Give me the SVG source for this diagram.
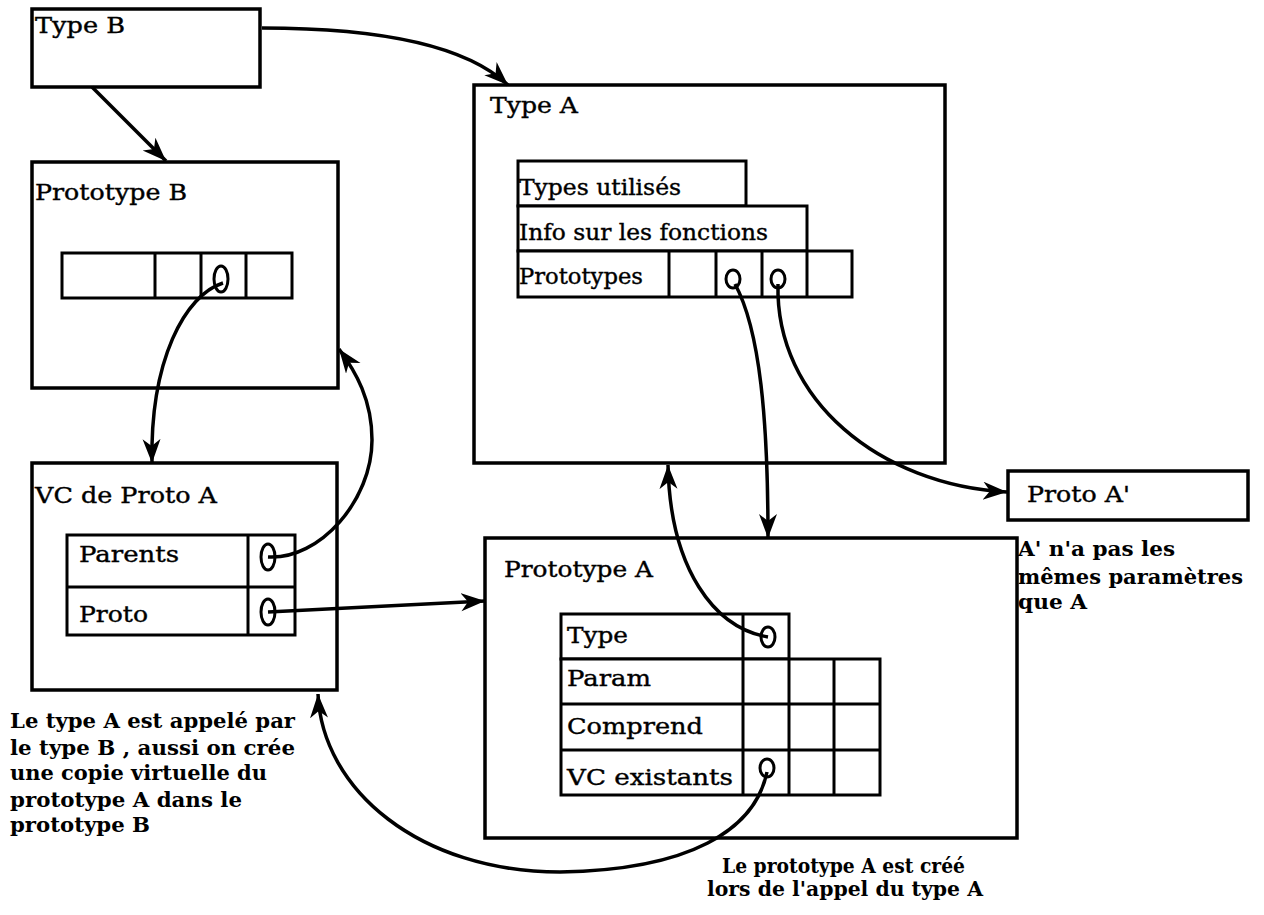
<svg xmlns="http://www.w3.org/2000/svg" width="1264" height="915" viewBox="0 0 1264 915">
<defs>
<marker id="ah" markerUnits="userSpaceOnUse" markerWidth="26" markerHeight="20" refX="24" refY="9" orient="auto">
<path d="M0,0 L24,9 L0,18 L7,9 z" fill="#000"/>
</marker>
<style>
.box{fill:#fff;stroke:#000;stroke-width:3.5}
.cell{fill:#fff;stroke:#000;stroke-width:3}
.t{font-family:"DejaVu Serif","Liberation Serif",serif;font-size:23px;fill:#000;stroke:#000;stroke-width:0.4}
.n{font-family:"DejaVu Serif","Liberation Serif",serif;font-size:20px;font-weight:bold;fill:#000}
.c{fill:none;stroke:#000;stroke-width:3.5}
.p{fill:none;stroke:#000;stroke-width:3}
</style>
</defs>
<rect width="1264" height="915" fill="#fff"/>

<g id="typeB">
<rect class="box" x="32" y="9" width="228" height="78"/>
<text class="t" x="35" y="33" textLength="90" lengthAdjust="spacingAndGlyphs">Type B</text>
</g>

<g id="prototypeB">
<rect class="box" x="32" y="162" width="306" height="226"/>
<text class="t" x="35" y="200" textLength="152" lengthAdjust="spacingAndGlyphs">Prototype B</text>
<rect class="cell" x="62" y="253" width="230" height="45"/>
<line class="cell" x1="155" y1="253" x2="155" y2="298"/>
<line class="cell" x1="201" y1="253" x2="201" y2="298"/>
<line class="cell" x1="246" y1="253" x2="246" y2="298"/>
</g>

<g id="typeA">
<rect class="box" x="474" y="85" width="471" height="378"/>
<text class="t" x="490" y="113" textLength="88" lengthAdjust="spacingAndGlyphs">Type A</text>
<rect class="cell" x="518" y="161" width="228" height="45"/>
<rect class="cell" x="518" y="206" width="289" height="45"/>
<rect class="cell" x="518" y="251" width="334" height="46"/>
<line class="cell" x1="669" y1="251" x2="669" y2="297"/>
<line class="cell" x1="716" y1="251" x2="716" y2="297"/>
<line class="cell" x1="762" y1="251" x2="762" y2="297"/>
<line class="cell" x1="807" y1="251" x2="807" y2="297"/>
<text class="t" x="519" y="195" font-size="21" textLength="162" lengthAdjust="spacingAndGlyphs">Types utilisés</text>
<text class="t" x="519" y="240" font-size="21" textLength="249" lengthAdjust="spacingAndGlyphs">Info sur les fonctions</text>
<text class="t" x="519" y="284" font-size="21" textLength="124" lengthAdjust="spacingAndGlyphs">Prototypes</text>
</g>

<g id="vcProtoA">
<rect class="box" x="32" y="463" width="305" height="227"/>
<text class="t" x="35" y="503" textLength="182" lengthAdjust="spacingAndGlyphs">VC de Proto A</text>
<rect class="cell" x="67" y="535" width="228" height="100"/>
<line class="cell" x1="67" y1="587" x2="295" y2="587"/>
<line class="cell" x1="248" y1="535" x2="248" y2="635"/>
<text class="t" x="79" y="562" textLength="100" lengthAdjust="spacingAndGlyphs">Parents</text>
<text class="t" x="79" y="622" textLength="69" lengthAdjust="spacingAndGlyphs">Proto</text>
</g>

<g id="prototypeA">
<rect class="box" x="485" y="538" width="532" height="300"/>
<text class="t" x="504" y="577" textLength="149" lengthAdjust="spacingAndGlyphs">Prototype A</text>
<rect class="cell" x="561" y="614" width="228" height="45"/>
<rect class="cell" x="561" y="659" width="319" height="136"/>
<line class="cell" x1="561" y1="704" x2="880" y2="704"/>
<line class="cell" x1="561" y1="750" x2="880" y2="750"/>
<line class="cell" x1="743" y1="614" x2="743" y2="795"/>
<line class="cell" x1="789" y1="659" x2="789" y2="795"/>
<line class="cell" x1="834" y1="659" x2="834" y2="795"/>
<text class="t" x="567" y="643" textLength="61" lengthAdjust="spacingAndGlyphs">Type</text>
<text class="t" x="567" y="686" textLength="84" lengthAdjust="spacingAndGlyphs">Param</text>
<text class="t" x="567" y="734" textLength="136" lengthAdjust="spacingAndGlyphs">Comprend</text>
<text class="t" x="567" y="785" textLength="166" lengthAdjust="spacingAndGlyphs">VC existants</text>
</g>

<g id="protoAprime">
<rect class="box" x="1008" y="471" width="240" height="49"/>
<text class="t" x="1027" y="502" textLength="103" lengthAdjust="spacingAndGlyphs">Proto A'</text>
</g>

<g id="notes">
<text class="n" x="10" y="728" textLength="285" lengthAdjust="spacingAndGlyphs">Le type A est appelé par</text>
<text class="n" x="10" y="755" textLength="285" lengthAdjust="spacingAndGlyphs">le type B , aussi on crée</text>
<text class="n" x="10" y="780" textLength="257" lengthAdjust="spacingAndGlyphs">une copie virtuelle du</text>
<text class="n" x="10" y="807" textLength="232" lengthAdjust="spacingAndGlyphs">prototype A dans le</text>
<text class="n" x="10" y="832" textLength="140" lengthAdjust="spacingAndGlyphs">prototype B</text>
<text class="n" x="1018" y="556" textLength="157" lengthAdjust="spacingAndGlyphs">A' n'a pas les</text>
<text class="n" x="1018" y="584" textLength="225" lengthAdjust="spacingAndGlyphs">mêmes paramètres</text>
<text class="n" x="1018" y="609" textLength="69" lengthAdjust="spacingAndGlyphs">que A</text>
<text class="n" x="722" y="873" textLength="243" lengthAdjust="spacingAndGlyphs">Le prototype A est créé</text>
<text class="n" x="707" y="896" textLength="276" lengthAdjust="spacingAndGlyphs">lors de l'appel du type A</text>
</g>

<g id="connectors">
<ellipse class="p" cx="221" cy="279" rx="7" ry="13"/>
<ellipse class="p" cx="733" cy="279" rx="7" ry="9"/>
<ellipse class="p" cx="778" cy="279" rx="7" ry="9"/>
<ellipse class="p" cx="268" cy="557" rx="7" ry="13"/>
<ellipse class="p" cx="268" cy="612" rx="7" ry="13"/>
<ellipse class="p" cx="768" cy="637" rx="7" ry="10"/>
<ellipse class="p" cx="767" cy="768" rx="7" ry="9"/>

<path class="c" d="M92,87 L166,161" marker-end="url(#ah)"/>
<path class="c" d="M262,28 C360,28 460,40 508,85" marker-end="url(#ah)"/>
<path class="c" d="M223,283 C185,295 150,360 152,463" marker-end="url(#ah)"/>
<path class="c" d="M268,557 C320,560 372,500 372,440 C372,400 356,372 339,349" marker-end="url(#ah)"/>
<path class="c" d="M268,612 L485,601" marker-end="url(#ah)"/>
<path class="c" d="M735,284 C760,330 768,420 768,538" marker-end="url(#ah)"/>
<path class="c" d="M778,284 C775,400 880,485 1007,492" marker-end="url(#ah)"/>
<path class="c" d="M768,637 C715,628 670,570 668,465" marker-end="url(#ah)"/>
<path class="c" d="M767,772 C755,830 690,870 560,872 C420,872 322,790 318,694" marker-end="url(#ah)"/>
</g>
</svg>
